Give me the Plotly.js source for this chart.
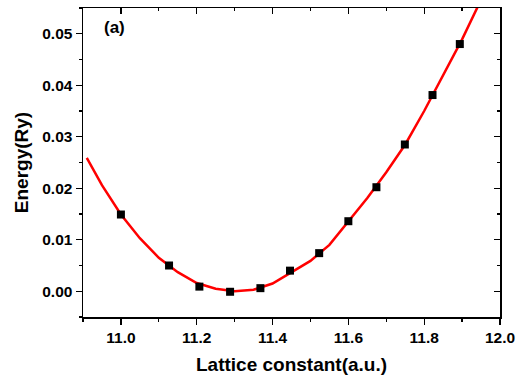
<!DOCTYPE html>
<html><head><meta charset="utf-8">
<script src="https://cdn.plot.ly/plotly-3.0.1.min.js"></script>
<style>html,body{margin:0;padding:0;background:#fff}#chart{width:528px;height:381px}</style>
</head><body><div id="chart"></div>
<script>
const latticeX = [11.0, 11.127, 11.207, 11.288, 11.368, 11.446, 11.523, 11.600, 11.674, 11.749, 11.822, 11.894];
const energyY = [0.0149, 0.0050, 0.0009, -0.0001, 0.0006, 0.0040, 0.0074, 0.0136, 0.0202, 0.0285, 0.0381, 0.0480];
const fitX = [10.91, 10.95, 11.0, 11.05, 11.1, 11.15, 11.2, 11.25, 11.3, 11.35, 11.4, 11.45, 11.5, 11.55, 11.6, 11.65, 11.7, 11.75, 11.8, 11.85, 11.9, 11.95];
const fitY = [0.0259, 0.0206, 0.0149, 0.0103, 0.0065, 0.0037, 0.0016, 0.0005, 0.0000, 0.0003, 0.0015, 0.0037, 0.0059, 0.0090, 0.0135, 0.0181, 0.0231, 0.0285, 0.0350, 0.0419, 0.0489, 0.0566];
const xRange = [10.9, 12.0];
const yRange = [-0.005, 0.055];

const fontFam = '"Liberation Sans", Arial, sans-serif';
const traces = [
  {x: fitX, y: fitY, mode: 'lines', line: {color: '#ff0000', width: 2.5}, hoverinfo: 'skip'},
  {x: latticeX, y: energyY, mode: 'markers', marker: {symbol: 'square', size: 8, color: '#000'}},
  {x: [], y: [], xaxis: 'x2', yaxis: 'y2', mode: 'markers'}
];
const tickFont = {family: fontFam, size: 15.5, color: '#000', weight: 'bold'};
const titleFont = {family: fontFam, size: 19, color: '#000', weight: 'bold'};
const layout = {
  width: 528, height: 381,
  margin: {l: 83, r: 28, t: 8, b: 64},
  paper_bgcolor: '#fff', plot_bgcolor: '#fff',
  showlegend: false,
  font: {family: fontFam, color: '#000'},
  xaxis: {
    range: xRange, dtick: 0.2, tick0: 11.0, tickformat: '.1f',
    ticks: 'outside', ticklen: 6, tickwidth: 1.2, tickcolor: '#000',
    minor: {dtick: 0.1, ticks: 'outside', ticklen: 3, tickcolor: '#000', tickwidth: 1.2},
    showline: true, linecolor: '#000', linewidth: 1.5, mirror: true,
    showgrid: false, zeroline: false, tickfont: tickFont,
    title: {text: 'Lattice constant(a.u.)', font: titleFont, standoff: 12}
  },
  yaxis: {
    range: yRange, dtick: 0.01, tick0: 0, tickformat: '.2f',
    ticks: 'outside', ticklen: 6, tickwidth: 1.2, tickcolor: '#000',
    minor: {dtick: 0.005, ticks: 'outside', ticklen: 3, tickcolor: '#000', tickwidth: 1.2},
    showline: true, linecolor: '#000', linewidth: 1.5, mirror: true,
    showgrid: false, zeroline: false, tickfont: tickFont,
    title: {text: 'Energy(Ry)', font: titleFont, standoff: 8}
  },
  xaxis2: {
    overlaying: 'x', side: 'top', anchor: 'y2', range: xRange, dtick: 0.2, tick0: 11.0,
    ticks: 'inside', ticklen: 6, tickwidth: 1.2, tickcolor: '#000',
    minor: {dtick: 0.1, ticks: 'inside', ticklen: 3, tickcolor: '#000', tickwidth: 1.2},
    showticklabels: false, showline: false, showgrid: false, zeroline: false
  },
  yaxis2: {
    overlaying: 'y', side: 'right', anchor: 'x2', range: yRange, dtick: 0.01, tick0: 0,
    ticks: 'inside', ticklen: 6, tickwidth: 1.2, tickcolor: '#000',
    minor: {dtick: 0.005, ticks: 'inside', ticklen: 3, tickcolor: '#000', tickwidth: 1.2},
    showticklabels: false, showline: false, showgrid: false, zeroline: false
  },
  annotations: [{
    text: '(a)', xref: 'paper', yref: 'paper', x: 0.045, y: 0.975, xanchor: 'left', yanchor: 'top',
    showarrow: false, font: {family: fontFam, size: 17, color: '#000', weight: 'bold'}
  }]
};
Plotly.newPlot('chart', traces, layout, {displayModeBar: false, staticPlot: true});
</script></body></html>
